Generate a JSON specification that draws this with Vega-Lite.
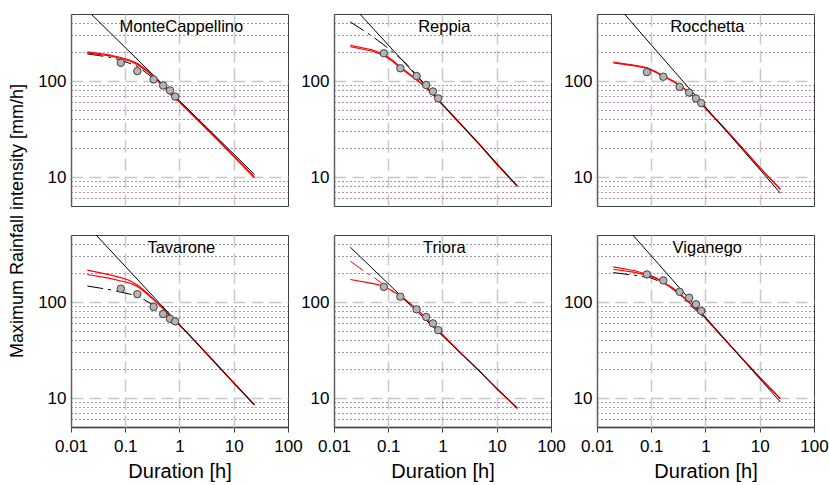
{
  "$schema": "https://vega.github.io/schema/vega-lite/v6.json",
  "background": "white",
  "padding": {"left": 8, "top": 13, "right": 5, "bottom": 5},
  "config": {"font": "Liberation Sans", "view": {"stroke": "#404040", "strokeWidth": 1}},
  "datasets": {
    "st": [
      {"s": "MonteCappellino", "r": 1, "c": 1},
      {"s": "Reppia", "r": 1, "c": 2},
      {"s": "Rocchetta", "r": 1, "c": 3},
      {"s": "Tavarone", "r": 2, "c": 1},
      {"s": "Triora", "r": 2, "c": 2},
      {"s": "Viganego", "r": 2, "c": 3}
    ],
    "pts": [
      {"s": "MonteCappellino", "k": "power", "d": 0.0235, "v": 500},
      {"s": "MonteCappellino", "k": "power", "d": 24, "v": 10.7},
      {"s": "MonteCappellino", "k": "redA", "d": 0.02, "v": 202},
      {"s": "MonteCappellino", "k": "redA", "d": 0.05, "v": 188},
      {"s": "MonteCappellino", "k": "redA", "d": 0.083, "v": 176},
      {"s": "MonteCappellino", "k": "redA", "d": 0.12, "v": 166},
      {"s": "MonteCappellino", "k": "redA", "d": 0.17, "v": 152},
      {"s": "MonteCappellino", "k": "redA", "d": 0.25, "v": 130},
      {"s": "MonteCappellino", "k": "redA", "d": 0.33, "v": 112},
      {"s": "MonteCappellino", "k": "redA", "d": 0.5, "v": 90},
      {"s": "MonteCappellino", "k": "redA", "d": 0.7, "v": 72},
      {"s": "MonteCappellino", "k": "redA", "d": 1, "v": 60},
      {"s": "MonteCappellino", "k": "redA", "d": 2, "v": 41},
      {"s": "MonteCappellino", "k": "redA", "d": 5, "v": 24.5},
      {"s": "MonteCappellino", "k": "redA", "d": 10, "v": 16.4},
      {"s": "MonteCappellino", "k": "redA", "d": 24, "v": 9.8},
      {"s": "MonteCappellino", "k": "redB", "d": 0.02, "v": 196},
      {"s": "MonteCappellino", "k": "redB", "d": 0.05, "v": 184},
      {"s": "MonteCappellino", "k": "redB", "d": 0.083, "v": 172},
      {"s": "MonteCappellino", "k": "redB", "d": 0.12, "v": 162},
      {"s": "MonteCappellino", "k": "redB", "d": 0.17, "v": 148},
      {"s": "MonteCappellino", "k": "redB", "d": 0.25, "v": 127},
      {"s": "MonteCappellino", "k": "redB", "d": 0.33, "v": 110},
      {"s": "MonteCappellino", "k": "redB", "d": 0.5, "v": 89},
      {"s": "MonteCappellino", "k": "redB", "d": 0.7, "v": 71.5},
      {"s": "MonteCappellino", "k": "redB", "d": 1, "v": 60.5},
      {"s": "MonteCappellino", "k": "redB", "d": 2, "v": 41.5},
      {"s": "MonteCappellino", "k": "redB", "d": 5, "v": 24.8},
      {"s": "MonteCappellino", "k": "redB", "d": 10, "v": 16.7},
      {"s": "MonteCappellino", "k": "redB", "d": 24, "v": 10.1},
      {"s": "MonteCappellino", "k": "dashK", "d": 0.02, "v": 192},
      {"s": "MonteCappellino", "k": "dashK", "d": 0.05, "v": 178},
      {"s": "MonteCappellino", "k": "dashK", "d": 0.083, "v": 166},
      {"s": "MonteCappellino", "k": "dashK", "d": 0.17, "v": 142},
      {"s": "MonteCappellino", "k": "dashK", "d": 0.33, "v": 107},
      {"s": "MonteCappellino", "k": "dashK", "d": 0.5, "v": 89},
      {"s": "MonteCappellino", "k": "dashK", "d": 0.7, "v": 72},
      {"s": "MonteCappellino", "k": "obs", "d": 0.083, "v": 155},
      {"s": "MonteCappellino", "k": "obs", "d": 0.167, "v": 127},
      {"s": "MonteCappellino", "k": "obs", "d": 0.333, "v": 104},
      {"s": "MonteCappellino", "k": "obs", "d": 0.5, "v": 90},
      {"s": "MonteCappellino", "k": "obs", "d": 0.667, "v": 80},
      {"s": "MonteCappellino", "k": "obs", "d": 0.833, "v": 69},

      {"s": "Reppia", "k": "power", "d": 0.03, "v": 500},
      {"s": "Reppia", "k": "power", "d": 24, "v": 8.1},
      {"s": "Reppia", "k": "redA", "d": 0.02, "v": 236},
      {"s": "Reppia", "k": "redA", "d": 0.05, "v": 212},
      {"s": "Reppia", "k": "redA", "d": 0.083, "v": 190},
      {"s": "Reppia", "k": "redA", "d": 0.12, "v": 165},
      {"s": "Reppia", "k": "redA", "d": 0.167, "v": 140},
      {"s": "Reppia", "k": "redA", "d": 0.25, "v": 118},
      {"s": "Reppia", "k": "redA", "d": 0.33, "v": 105},
      {"s": "Reppia", "k": "redA", "d": 0.5, "v": 86},
      {"s": "Reppia", "k": "redA", "d": 0.7, "v": 71},
      {"s": "Reppia", "k": "redA", "d": 1, "v": 57},
      {"s": "Reppia", "k": "redA", "d": 2, "v": 37.5},
      {"s": "Reppia", "k": "redA", "d": 5, "v": 21.5},
      {"s": "Reppia", "k": "redA", "d": 10, "v": 13.7},
      {"s": "Reppia", "k": "redA", "d": 24, "v": 8.0},
      {"s": "Reppia", "k": "redB", "d": 0.02, "v": 228},
      {"s": "Reppia", "k": "redB", "d": 0.05, "v": 206},
      {"s": "Reppia", "k": "redB", "d": 0.083, "v": 185},
      {"s": "Reppia", "k": "redB", "d": 0.12, "v": 161},
      {"s": "Reppia", "k": "redB", "d": 0.167, "v": 137},
      {"s": "Reppia", "k": "redB", "d": 0.25, "v": 116},
      {"s": "Reppia", "k": "redB", "d": 0.33, "v": 103},
      {"s": "Reppia", "k": "redB", "d": 0.5, "v": 85},
      {"s": "Reppia", "k": "redB", "d": 0.7, "v": 70},
      {"s": "Reppia", "k": "redB", "d": 1, "v": 56.5},
      {"s": "Reppia", "k": "redB", "d": 2, "v": 37.2},
      {"s": "Reppia", "k": "redB", "d": 5, "v": 21.3},
      {"s": "Reppia", "k": "redB", "d": 10, "v": 13.6},
      {"s": "Reppia", "k": "redB", "d": 24, "v": 8.0},
      {"s": "Reppia", "k": "dashK", "d": 0.02, "v": 413},
      {"s": "Reppia", "k": "dashK", "d": 0.038, "v": 327},
      {"s": "Reppia", "k": "dashK", "d": 0.055, "v": 283},
      {"s": "Reppia", "k": "dashK", "d": 0.1, "v": 220},
      {"s": "Reppia", "k": "dashK", "d": 0.2, "v": 158},
      {"s": "Reppia", "k": "dashK", "d": 0.3, "v": 124},
      {"s": "Reppia", "k": "dashK", "d": 0.5, "v": 89},
      {"s": "Reppia", "k": "dashK", "d": 0.8, "v": 66},
      {"s": "Reppia", "k": "obs", "d": 0.083, "v": 195},
      {"s": "Reppia", "k": "obs", "d": 0.167, "v": 136},
      {"s": "Reppia", "k": "obs", "d": 0.333, "v": 113},
      {"s": "Reppia", "k": "obs", "d": 0.5, "v": 91},
      {"s": "Reppia", "k": "obs", "d": 0.667, "v": 78},
      {"s": "Reppia", "k": "obs", "d": 0.833, "v": 66},

      {"s": "Rocchetta", "k": "power", "d": 0.032, "v": 500},
      {"s": "Rocchetta", "k": "power", "d": 24, "v": 6.8},
      {"s": "Rocchetta", "k": "redA", "d": 0.02, "v": 158},
      {"s": "Rocchetta", "k": "redA", "d": 0.05, "v": 146},
      {"s": "Rocchetta", "k": "redA", "d": 0.083, "v": 138},
      {"s": "Rocchetta", "k": "redA", "d": 0.12, "v": 126},
      {"s": "Rocchetta", "k": "redA", "d": 0.17, "v": 113},
      {"s": "Rocchetta", "k": "redA", "d": 0.25, "v": 101},
      {"s": "Rocchetta", "k": "redA", "d": 0.33, "v": 91},
      {"s": "Rocchetta", "k": "redA", "d": 0.5, "v": 76},
      {"s": "Rocchetta", "k": "redA", "d": 0.7, "v": 63},
      {"s": "Rocchetta", "k": "redA", "d": 1, "v": 52},
      {"s": "Rocchetta", "k": "redA", "d": 2, "v": 34.5},
      {"s": "Rocchetta", "k": "redA", "d": 5, "v": 19.5},
      {"s": "Rocchetta", "k": "redA", "d": 10, "v": 12.5},
      {"s": "Rocchetta", "k": "redA", "d": 24, "v": 7.4},
      {"s": "Rocchetta", "k": "redB", "d": 0.02, "v": 155},
      {"s": "Rocchetta", "k": "redB", "d": 0.05, "v": 144},
      {"s": "Rocchetta", "k": "redB", "d": 0.083, "v": 136},
      {"s": "Rocchetta", "k": "redB", "d": 0.12, "v": 124},
      {"s": "Rocchetta", "k": "redB", "d": 0.17, "v": 111},
      {"s": "Rocchetta", "k": "redB", "d": 0.25, "v": 99.5},
      {"s": "Rocchetta", "k": "redB", "d": 0.33, "v": 90},
      {"s": "Rocchetta", "k": "redB", "d": 0.5, "v": 75.5},
      {"s": "Rocchetta", "k": "redB", "d": 0.7, "v": 62.5},
      {"s": "Rocchetta", "k": "redB", "d": 1, "v": 52},
      {"s": "Rocchetta", "k": "redB", "d": 2, "v": 34.5},
      {"s": "Rocchetta", "k": "redB", "d": 5, "v": 19.6},
      {"s": "Rocchetta", "k": "redB", "d": 10, "v": 12.6},
      {"s": "Rocchetta", "k": "redB", "d": 24, "v": 7.5},
      {"s": "Rocchetta", "k": "obs", "d": 0.083, "v": 124},
      {"s": "Rocchetta", "k": "obs", "d": 0.167, "v": 111},
      {"s": "Rocchetta", "k": "obs", "d": 0.333, "v": 87},
      {"s": "Rocchetta", "k": "obs", "d": 0.5, "v": 76},
      {"s": "Rocchetta", "k": "obs", "d": 0.667, "v": 66},
      {"s": "Rocchetta", "k": "obs", "d": 0.833, "v": 59},

      {"s": "Tavarone", "k": "power", "d": 0.029, "v": 500},
      {"s": "Tavarone", "k": "power", "d": 24, "v": 8.45},
      {"s": "Tavarone", "k": "redA", "d": 0.02, "v": 215},
      {"s": "Tavarone", "k": "redA", "d": 0.05, "v": 193},
      {"s": "Tavarone", "k": "redA", "d": 0.083, "v": 180},
      {"s": "Tavarone", "k": "redA", "d": 0.12, "v": 168},
      {"s": "Tavarone", "k": "redA", "d": 0.17, "v": 150},
      {"s": "Tavarone", "k": "redA", "d": 0.25, "v": 125},
      {"s": "Tavarone", "k": "redA", "d": 0.33, "v": 108},
      {"s": "Tavarone", "k": "redA", "d": 0.5, "v": 86},
      {"s": "Tavarone", "k": "redA", "d": 0.7, "v": 70},
      {"s": "Tavarone", "k": "redA", "d": 1, "v": 58},
      {"s": "Tavarone", "k": "redA", "d": 2, "v": 38.5},
      {"s": "Tavarone", "k": "redA", "d": 5, "v": 22},
      {"s": "Tavarone", "k": "redA", "d": 10, "v": 14.5},
      {"s": "Tavarone", "k": "redA", "d": 24, "v": 8.6},
      {"s": "Tavarone", "k": "redB", "d": 0.02, "v": 194},
      {"s": "Tavarone", "k": "redB", "d": 0.05, "v": 178},
      {"s": "Tavarone", "k": "redB", "d": 0.083, "v": 166},
      {"s": "Tavarone", "k": "redB", "d": 0.12, "v": 158},
      {"s": "Tavarone", "k": "redB", "d": 0.17, "v": 145},
      {"s": "Tavarone", "k": "redB", "d": 0.25, "v": 122},
      {"s": "Tavarone", "k": "redB", "d": 0.33, "v": 106},
      {"s": "Tavarone", "k": "redB", "d": 0.5, "v": 85},
      {"s": "Tavarone", "k": "redB", "d": 0.7, "v": 69.5},
      {"s": "Tavarone", "k": "redB", "d": 1, "v": 58},
      {"s": "Tavarone", "k": "redB", "d": 2, "v": 38.5},
      {"s": "Tavarone", "k": "redB", "d": 5, "v": 22},
      {"s": "Tavarone", "k": "redB", "d": 10, "v": 14.3},
      {"s": "Tavarone", "k": "redB", "d": 24, "v": 8.5},
      {"s": "Tavarone", "k": "dashK", "d": 0.02, "v": 147},
      {"s": "Tavarone", "k": "dashK", "d": 0.055, "v": 134},
      {"s": "Tavarone", "k": "dashK", "d": 0.17, "v": 116},
      {"s": "Tavarone", "k": "dashK", "d": 0.33, "v": 93},
      {"s": "Tavarone", "k": "dashK", "d": 0.5, "v": 78},
      {"s": "Tavarone", "k": "dashK", "d": 0.7, "v": 68},
      {"s": "Tavarone", "k": "dashK", "d": 1, "v": 58},
      {"s": "Tavarone", "k": "obs", "d": 0.083, "v": 138},
      {"s": "Tavarone", "k": "obs", "d": 0.167, "v": 121},
      {"s": "Tavarone", "k": "obs", "d": 0.333, "v": 89},
      {"s": "Tavarone", "k": "obs", "d": 0.5, "v": 75},
      {"s": "Tavarone", "k": "obs", "d": 0.667, "v": 67},
      {"s": "Tavarone", "k": "obs", "d": 0.833, "v": 63},

      {"s": "Triora", "k": "power", "d": 0.02, "v": 373},
      {"s": "Triora", "k": "power", "d": 24, "v": 7.9},
      {"s": "Triora", "k": "redA", "d": 0.02, "v": 172},
      {"s": "Triora", "k": "redA", "d": 0.05, "v": 157},
      {"s": "Triora", "k": "redA", "d": 0.083, "v": 147},
      {"s": "Triora", "k": "redA", "d": 0.17, "v": 116},
      {"s": "Triora", "k": "redA", "d": 0.33, "v": 86},
      {"s": "Triora", "k": "redA", "d": 0.5, "v": 68},
      {"s": "Triora", "k": "redA", "d": 0.7, "v": 56},
      {"s": "Triora", "k": "redA", "d": 1, "v": 46},
      {"s": "Triora", "k": "redA", "d": 2, "v": 31},
      {"s": "Triora", "k": "redA", "d": 5, "v": 18.8},
      {"s": "Triora", "k": "redA", "d": 10, "v": 12.4},
      {"s": "Triora", "k": "redA", "d": 24, "v": 7.8},
      {"s": "Triora", "k": "dashR", "d": 0.02, "v": 267},
      {"s": "Triora", "k": "dashR", "d": 0.038, "v": 205},
      {"s": "Triora", "k": "dashR", "d": 0.055, "v": 180},
      {"s": "Triora", "k": "dashR", "d": 0.1, "v": 140},
      {"s": "Triora", "k": "dashR", "d": 0.17, "v": 114},
      {"s": "Triora", "k": "dashR", "d": 0.33, "v": 82},
      {"s": "Triora", "k": "dashR", "d": 0.5, "v": 66},
      {"s": "Triora", "k": "dashR", "d": 0.8, "v": 50},
      {"s": "Triora", "k": "dashR", "d": 1, "v": 45},
      {"s": "Triora", "k": "obs", "d": 0.083, "v": 144},
      {"s": "Triora", "k": "obs", "d": 0.167, "v": 114},
      {"s": "Triora", "k": "obs", "d": 0.333, "v": 84},
      {"s": "Triora", "k": "obs", "d": 0.5, "v": 70},
      {"s": "Triora", "k": "obs", "d": 0.667, "v": 60},
      {"s": "Triora", "k": "obs", "d": 0.833, "v": 51},

      {"s": "Viganego", "k": "power", "d": 0.0457, "v": 500},
      {"s": "Viganego", "k": "power", "d": 24, "v": 9.1},
      {"s": "Viganego", "k": "redA", "d": 0.02, "v": 233},
      {"s": "Viganego", "k": "redA", "d": 0.05, "v": 212},
      {"s": "Viganego", "k": "redA", "d": 0.083, "v": 195},
      {"s": "Viganego", "k": "redA", "d": 0.12, "v": 180},
      {"s": "Viganego", "k": "redA", "d": 0.17, "v": 160},
      {"s": "Viganego", "k": "redA", "d": 0.25, "v": 140},
      {"s": "Viganego", "k": "redA", "d": 0.33, "v": 124},
      {"s": "Viganego", "k": "redA", "d": 0.5, "v": 100},
      {"s": "Viganego", "k": "redA", "d": 0.7, "v": 84},
      {"s": "Viganego", "k": "redA", "d": 1, "v": 68},
      {"s": "Viganego", "k": "redA", "d": 2, "v": 44},
      {"s": "Viganego", "k": "redA", "d": 5, "v": 25},
      {"s": "Viganego", "k": "redA", "d": 10, "v": 16.5},
      {"s": "Viganego", "k": "redA", "d": 24, "v": 9.9},
      {"s": "Viganego", "k": "redB", "d": 0.02, "v": 220},
      {"s": "Viganego", "k": "redB", "d": 0.05, "v": 204},
      {"s": "Viganego", "k": "redB", "d": 0.083, "v": 190},
      {"s": "Viganego", "k": "redB", "d": 0.12, "v": 177},
      {"s": "Viganego", "k": "redB", "d": 0.17, "v": 158},
      {"s": "Viganego", "k": "redB", "d": 0.25, "v": 138},
      {"s": "Viganego", "k": "redB", "d": 0.33, "v": 122},
      {"s": "Viganego", "k": "redB", "d": 0.5, "v": 99},
      {"s": "Viganego", "k": "redB", "d": 0.7, "v": 83},
      {"s": "Viganego", "k": "redB", "d": 1, "v": 68},
      {"s": "Viganego", "k": "redB", "d": 2, "v": 44},
      {"s": "Viganego", "k": "redB", "d": 5, "v": 25},
      {"s": "Viganego", "k": "redB", "d": 10, "v": 16.3},
      {"s": "Viganego", "k": "redB", "d": 24, "v": 9.8},
      {"s": "Viganego", "k": "dashK", "d": 0.02, "v": 203},
      {"s": "Viganego", "k": "dashK", "d": 0.05, "v": 190},
      {"s": "Viganego", "k": "dashK", "d": 0.095, "v": 180},
      {"s": "Viganego", "k": "dashK", "d": 0.19, "v": 154},
      {"s": "Viganego", "k": "dashK", "d": 0.33, "v": 120},
      {"s": "Viganego", "k": "dashK", "d": 0.45, "v": 100},
      {"s": "Viganego", "k": "dashK", "d": 0.7, "v": 80},
      {"s": "Viganego", "k": "dashK", "d": 1, "v": 67},
      {"s": "Viganego", "k": "dashK", "d": 2, "v": 44},
      {"s": "Viganego", "k": "obs", "d": 0.083, "v": 194},
      {"s": "Viganego", "k": "obs", "d": 0.167, "v": 168},
      {"s": "Viganego", "k": "obs", "d": 0.333, "v": 128},
      {"s": "Viganego", "k": "obs", "d": 0.5, "v": 111},
      {"s": "Viganego", "k": "obs", "d": 0.667, "v": 95},
      {"s": "Viganego", "k": "obs", "d": 0.833, "v": 81}
    ]
  },
  "data": {"name": "pts"},
  "transform": [
    {"lookup": "s", "from": {"data": {"name": "st"}, "key": "s", "fields": ["r", "c"]}}
  ],
  "facet": {
    "row": {"field": "r", "type": "ordinal", "title": "Maximum Rainfall intensity [mm/h]",
      "header": {"labels": false, "titleFontSize": 18, "titleFontWeight": "normal", "titleFont": "Liberation Sans", "titleColor": "#000000", "titlePadding": 34}},
    "column": {"field": "c", "type": "ordinal", "title": null, "header": {"labels": false}}
  },
  "spacing": {"row": 29, "column": 46},
  "bounds": "flush",
  "resolve": {"axis": {"y": "independent"}},
  "spec": {
    "width": 217,
    "height": 192,
    "encoding": {
      "x": {"field": "d", "type": "quantitative",
        "scale": {"type": "log", "domain": [0.01, 100]},
        "axis": {"title": "Duration [h]", "values": [0.01, 0.1, 1, 10, 100], "format": "~g",
          "labelFontSize": 17, "labelColor": "#000000", "labelPadding": 6, "labelFlush": false,
          "titleFontSize": 20, "titleFontWeight": "normal", "titleColor": "#000000", "titlePadding": 7,
          "tickSize": 5, "tickColor": "#404040",
          "domainColor": "#808080", "domainWidth": 2,
          "grid": true, "gridDash": [12, 6], "gridWidth": 1.5,
          "gridColor": {"condition": {"test": "datum.value > 0.05 && datum.value < 50", "value": "#c8c8c8"}, "value": "transparent"}}},
      "y": {"field": "v", "type": "quantitative",
        "scale": {"type": "log", "domain": [5, 500]},
        "axis": {"title": null, "values": [6, 7, 8, 9, 10, 20, 30, 40, 50, 60, 70, 80, 90, 100, 200, 300, 400],
          "format": "~g", "labelExpr": "datum.value == 10 || datum.value == 100 ? datum.label : ''",
          "labelFontSize": 17, "labelColor": "#000000", "labelPadding": 5, "ticks": false,
          "domainColor": "#606060", "domainWidth": 1.5,
          "grid": true,
          "gridColor": {"condition": {"test": "datum.value == 10 || datum.value == 100", "value": "#c8c8c8"}, "value": "#5e2256"},
          "gridDash": {"condition": {"test": "datum.value == 10 || datum.value == 100", "value": [12, 6]}, "value": [1, 3]},
          "gridWidth": {"condition": {"test": "datum.value == 10 || datum.value == 100", "value": 1.5}, "value": 1}}}
    },
    "layer": [
      {"transform": [{"filter": "datum.k == 'dashK' || datum.k == 'dashR'"}],
        "mark": {"type": "line", "clip": true, "strokeWidth": 1, "strokeDash": [16, 5, 3, 5]},
        "encoding": {"color": {"field": "k", "type": "nominal", "scale": {"domain": ["dashK", "dashR"], "range": ["#000000", "#ff0000"]}, "legend": null}}},
      {"transform": [{"filter": "datum.k == 'redA' || datum.k == 'redB'"}],
        "mark": {"type": "line", "clip": true, "strokeWidth": 1.2, "color": "#ff0000"},
        "encoding": {"detail": {"field": "k"}}},
      {"transform": [{"filter": "datum.k == 'power'"}],
        "mark": {"type": "line", "clip": true, "strokeWidth": 1, "color": "#000000"}},
      {"transform": [{"filter": "datum.k == 'obs'"}],
        "mark": {"type": "point", "filled": true, "fill": "#b4b4b4", "stroke": "#404040", "strokeWidth": 1, "size": 55, "opacity": 1}},
      {"transform": [{"filter": "datum.k == 'power' && datum.d > 20"}],
        "mark": {"type": "text", "fontSize": 16.5, "fill": "#000000", "align": "center", "baseline": "middle"},
        "encoding": {"text": {"field": "s", "type": "nominal"},
          "x": {"datum": 1.08, "type": "quantitative"},
          "y": {"datum": 366, "type": "quantitative"}}}
    ]
  }
}
